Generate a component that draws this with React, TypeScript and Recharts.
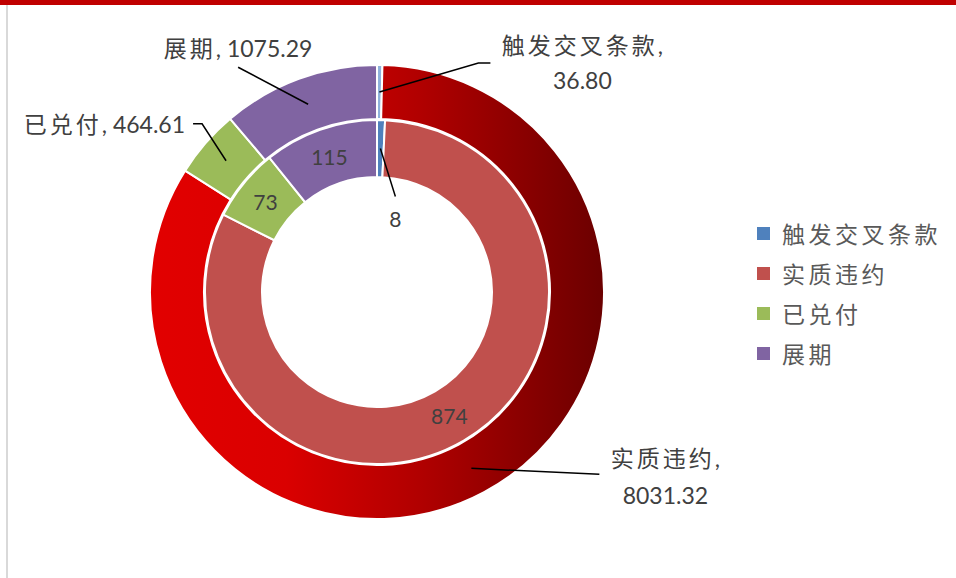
import React from 'react';
import { PieChart, Pie, Cell, Legend } from 'recharts';

const categories = ['触发交叉条款', '实质违约', '已兑付', '展期'];
const innerCounts = [8, 874, 73, 115];
const outerAmounts = [36.8, 8031.32, 464.61, 1075.29];

const colors = ['#4F81BD', '#C0504D', '#9BBB59', '#8064A2'];
const outerFills = ['#8FB2DC', 'url(#redGrad)', '#9BBB59', '#8064A2'];

// leader line / text offsets from the sector's ring midpoint
const outerLayout = [
  { pts: [[99, -29], [111, -29]], text: [203, -47], lineGap: 35, split: true, anchor: 'middle' },
  { pts: [[128, 6]], text: [194, -10], lineGap: 37, split: true, anchor: 'middle' },
  { pts: [[-24, -37], [-33, -37]], text: [-41, -37], lineGap: 0, split: false, anchor: 'end' },
  { pts: [[-70, -37]], text: [-70, -56], lineGap: 0, split: false, anchor: 'middle' },
];
const innerLayout = [
  { pts: [[15, 48]], text: [15, 70] },
  null,
  null,
  null,
];

const innerData = categories.map((name, i) => ({ name, value: innerCounts[i] }));
const outerData = categories.map((name, i) => ({ name, value: outerAmounts[i] }));

const RADIAN = Math.PI / 180;
const FONT = "Lato, 'Noto Sans CJK SC', sans-serif";
const TEXT = '#404040';

function anchorPoint(p: any) {
  const r = (p.innerRadius + p.outerRadius) / 2;
  return {
    x: p.cx + r * Math.cos(-p.midAngle * RADIAN),
    y: p.cy + r * Math.sin(-p.midAngle * RADIAN),
  };
}

const Cjk = ({ children }: { children: React.ReactNode }) => (
  <tspan letterSpacing={3}>{children}</tspan>
);

function OuterLabel(p: any) {
  const cfg = outerLayout[p.index];
  const a = anchorPoint(p);
  const pts = [[a.x, a.y], ...cfg.pts.map(([dx, dy]) => [a.x + dx, a.y + dy])];
  const name = categories[p.index];
  const val = outerAmounts[p.index].toFixed(2);
  const tx = a.x + cfg.text[0];
  const ty = a.y + cfg.text[1];
  const common = { dominantBaseline: 'central' as const, fill: TEXT, fontSize: 23, fontFamily: FONT };
  return (
    <g>
      <polyline points={pts.map((q) => q.join(',')).join(' ')} fill="none" stroke="#000" strokeWidth={1.5} />
      {cfg.split ? (
        <>
          <text x={tx} y={ty} textAnchor="middle" {...common}>
            <Cjk>{name}</Cjk>,
          </text>
          <text x={tx} y={ty + cfg.lineGap} textAnchor="middle" {...common}>
            {val}
          </text>
        </>
      ) : (
        <text x={tx} y={ty} textAnchor={cfg.anchor} {...common}>
          <Cjk>{name}</Cjk>, {val}
        </text>
      )}
    </g>
  );
}

function InnerLabel(p: any) {
  const cfg = innerLayout[p.index];
  const a = anchorPoint(p);
  if (!cfg) {
    return (
      <text x={a.x} y={a.y} textAnchor="middle" dominantBaseline="central" fill={TEXT} fontSize={21} fontFamily={FONT}>
        {innerCounts[p.index]}
      </text>
    );
  }
  const pts = [[a.x, a.y], ...cfg.pts.map(([dx, dy]) => [a.x + dx, a.y + dy])];
  return (
    <g>
      <polyline points={pts.map((q) => q.join(',')).join(' ')} fill="none" stroke="#000" strokeWidth={1.5} />
      <text x={a.x + cfg.text[0]} y={a.y + cfg.text[1]} textAnchor="middle" dominantBaseline="central" fill={TEXT} fontSize={21} fontFamily={FONT}>
        {innerCounts[p.index]}
      </text>
    </g>
  );
}

function LegendBox() {
  return (
    <div style={{ fontFamily: FONT }}>
      {categories.map((c, i) => (
        <div key={c} style={{ display: 'flex', alignItems: 'center', height: 40 }}>
          <span style={{ width: 13, height: 13, background: colors[i], display: 'inline-block', marginRight: 12 }} />
          <span style={{ fontSize: 23, color: '#595959', letterSpacing: 3.5 }}>{c}</span>
        </div>
      ))}
    </div>
  );
}

export default function App() {
  return (
    <div style={{ position: 'absolute', left: 0, top: 0, width: 956, height: 578, background: '#fff', overflow: 'hidden' }}>
      <div style={{ position: 'absolute', left: 0, top: 0, width: 956, height: 5, background: '#C00000' }} />
      <div style={{ position: 'absolute', left: 6, top: 5, width: 2, height: 573, background: '#D9D9D9' }} />
      <PieChart width={956} height={578} margin={{ top: 0, right: 0, bottom: 0, left: 0 }}>
        <defs>
          <linearGradient id="redGrad" x1="0" y1="0" x2="1" y2="0">
            <stop offset="0" stopColor="#E20000" />
            <stop offset="0.3" stopColor="#DA0000" />
            <stop offset="0.6" stopColor="#B00000" />
            <stop offset="1" stopColor="#6B0000" />
          </linearGradient>
        </defs>
        <Pie
          data={innerData}
          dataKey="value"
          cx={377}
          cy={292}
          innerRadius={115}
          outerRadius={172}
          startAngle={90}
          endAngle={-270}
          stroke="#fff"
          strokeWidth={2}
          label={InnerLabel}
          labelLine={false}
          isAnimationActive={false}
        >
          {innerData.map((d, i) => (
            <Cell key={d.name} fill={colors[i]} />
          ))}
        </Pie>
        <Pie
          data={outerData}
          dataKey="value"
          cx={377}
          cy={292}
          innerRadius={173}
          outerRadius={227}
          startAngle={90}
          endAngle={-270}
          stroke="#fff"
          strokeWidth={2}
          label={OuterLabel}
          labelLine={false}
          isAnimationActive={false}
        >
          {outerData.map((d, i) => (
            <Cell key={d.name} fill={outerFills[i]} />
          ))}
        </Pie>
        <Legend
          content={LegendBox}
          wrapperStyle={{ position: 'absolute', left: 757, top: 213, width: 200 }}
        />
      </PieChart>
    </div>
  );
}
